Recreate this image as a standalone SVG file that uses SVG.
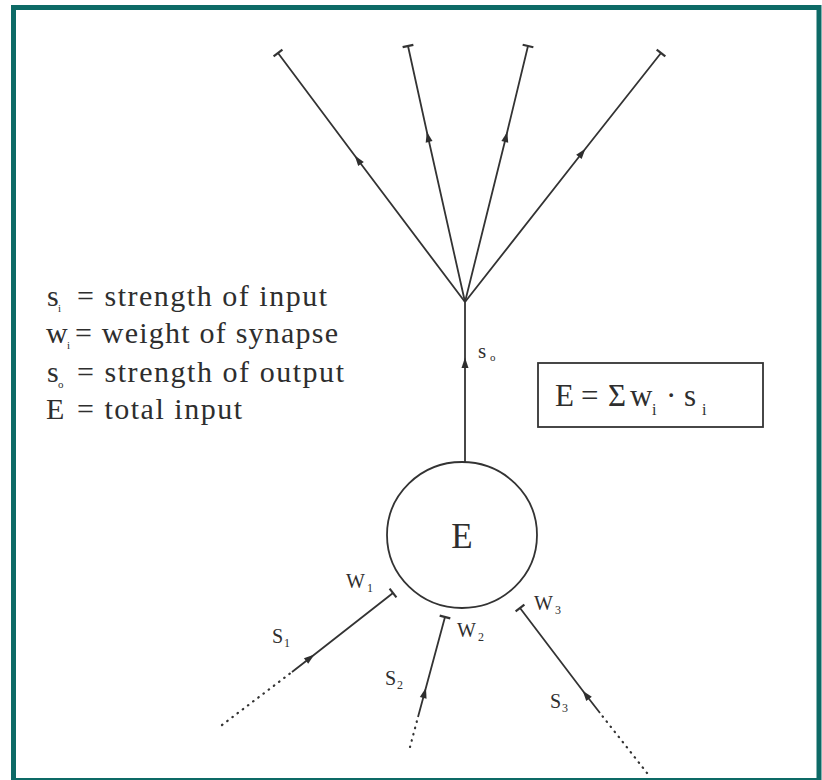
<svg xmlns="http://www.w3.org/2000/svg" width="822" height="780" viewBox="0 0 822 780">
<style>
.t{font-family:"Liberation Serif","Times New Roman",serif;fill:#2e2e2e}
.ln{stroke:#333;stroke-width:1.8;fill:none}
.dot{stroke:#333;stroke-width:2.2;fill:none;stroke-dasharray:0.5 6;stroke-linecap:round}
</style>
<defs>
<marker id="arr" viewBox="-6 -4 12 8" markerWidth="12" markerHeight="8" markerUnits="userSpaceOnUse" orient="auto">
<path d="M5.5,0 L-5,-3.5 L-5,3.5 Z" fill="#2e2e2e"/>
</marker>
<marker id="bar" viewBox="-2 -7 4 14" markerWidth="4" markerHeight="14" markerUnits="userSpaceOnUse" orient="auto">
<path d="M0,-5.5 L0,5.5" stroke="#333" stroke-width="2.2"/>
</marker>
</defs>
<rect x="0" y="0" width="822" height="780" fill="#fff"/>
<rect x="13.5" y="7.5" width="805.5" height="773" fill="none" stroke="#0d6a66" stroke-width="5"/>

<g id="connectors">
<path class="ln" d="M465,462 L465,363 L465,302" marker-mid="url(#arr)"/>
<path class="ln" d="M465,302 L358,160 L278,53" marker-mid="url(#arr)" marker-end="url(#bar)"/>
<path class="ln" d="M465,302 L428,137 L408,46" marker-mid="url(#arr)" marker-end="url(#bar)"/>
<path class="ln" d="M465,302 L506,137 L528,46" marker-mid="url(#arr)" marker-end="url(#bar)"/>
<path class="ln" d="M465,302 L582,153 L661,53" marker-mid="url(#arr)" marker-end="url(#bar)"/>
<path class="dot" d="M222,725 L292,672"/>
<path class="ln" d="M292,672 L310,658 L393,593" marker-mid="url(#arr)" marker-end="url(#bar)"/>
<path class="dot" d="M410,747 L418,717"/>
<path class="ln" d="M418,717 L424.5,693 L445,617" marker-mid="url(#arr)" marker-end="url(#bar)"/>
<path class="dot" d="M647,773 L600,713"/>
<path class="ln" d="M600,713 L586,695 L520,608" marker-mid="url(#arr)" marker-end="url(#bar)"/>
</g>

<g id="neuron">
<ellipse cx="462" cy="535" rx="75" ry="73" fill="#fff" stroke="#333" stroke-width="1.8"/>
<text class="t" x="462" y="548" font-size="35" text-anchor="middle">E</text>
</g>

<g id="legend">
<text class="t" x="47" y="306" font-size="30">s</text><text class="t" x="58" y="312" font-size="11">i</text>
<text class="t" x="77" y="306" font-size="30" textLength="250" lengthAdjust="spacing">= strength of input</text>
<text class="t" x="46" y="343" font-size="30">w</text><text class="t" x="67" y="349" font-size="11">i</text>
<text class="t" x="75" y="343" font-size="30" textLength="263" lengthAdjust="spacing">= weight of synapse</text>
<text class="t" x="47" y="382" font-size="30">s</text><text class="t" x="58" y="388" font-size="11">o</text>
<text class="t" x="77" y="382" font-size="30" textLength="267" lengthAdjust="spacing">= strength of output</text>
<text class="t" x="46" y="419" font-size="30">E</text>
<text class="t" x="77" y="419" font-size="30" textLength="165" lengthAdjust="spacing">= total input</text>
</g>

<g id="output-label">
<text class="t" x="478" y="358" font-size="21">s</text><text class="t" x="490" y="361" font-size="11">o</text>
</g>

<g id="formula">
<rect x="538" y="363" width="225" height="64" fill="none" stroke="#333" stroke-width="1.8"/>
<text class="t" x="555" y="406" font-size="31">E</text>
<text class="t" x="581" y="406" font-size="31">=</text>
<text class="t" x="608" y="406" font-size="31">Σ</text>
<text class="t" x="630" y="406" font-size="31">w</text>
<text class="t" x="652" y="415" font-size="16">i</text>
<text class="t" x="666" y="406" font-size="31">·</text>
<text class="t" x="684" y="406" font-size="31">s</text>
<text class="t" x="702" y="415" font-size="16">i</text>
</g>

<g id="input-labels">
<text class="t" x="346" y="588" font-size="20">W</text><text class="t" x="367" y="592" font-size="12">1</text>
<text class="t" x="272" y="643" font-size="20">S</text><text class="t" x="284" y="647" font-size="12">1</text>
<text class="t" x="457" y="637" font-size="20">W</text><text class="t" x="478" y="641" font-size="12">2</text>
<text class="t" x="385" y="685" font-size="20">S</text><text class="t" x="397" y="689" font-size="12">2</text>
<text class="t" x="534" y="610" font-size="20">W</text><text class="t" x="555" y="614" font-size="12">3</text>
<text class="t" x="550" y="708" font-size="20">S</text><text class="t" x="562" y="712" font-size="12">3</text>
</g>
</svg>
